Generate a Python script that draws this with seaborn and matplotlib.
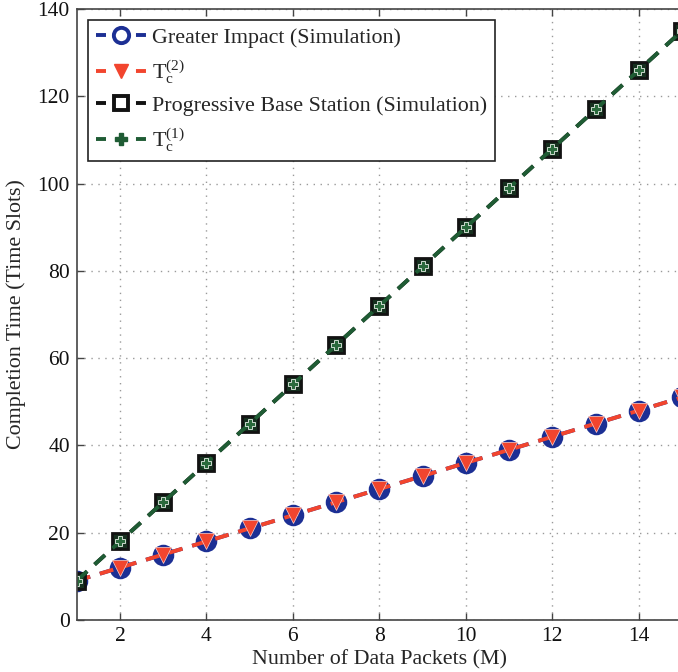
import numpy as np
import pandas as pd
import matplotlib
matplotlib.use("Agg")
import matplotlib.pyplot as plt
from matplotlib.lines import Line2D
import seaborn as sns

# Number of data packets M
packets = [1, 2, 3, 4, 5, 6, 7, 8, 9, 10, 11, 12, 13, 14, 15]
# Completion times (time slots)
greater_impact_sim = [9, 12, 15, 18, 21, 24, 27, 30, 33, 36, 39, 42, 45, 48, 51]
tc2_analysis = [9, 12, 15, 18, 21, 24, 27, 30, 33, 36, 39, 42, 45, 48, 51]
progressive_bs_sim = [9, 18, 27, 36, 45, 54, 63, 72, 81, 90, 99, 108, 117, 126, 135]
tc1_analysis = [9, 18, 27, 36, 45, 54, 63, 72, 81, 90, 99, 108, 117, 126, 135]

x_ticks = [2, 4, 6, 8, 10, 12, 14]
y_ticks = [0, 20, 40, 60, 80, 100, 120, 140]

labels = ["Greater Impact (Simulation)", r"T$_\mathrm{c}^{(2)}$",
          "Progressive Base Station (Simulation)", r"T$_\mathrm{c}^{(1)}$"]

sns.set_theme(style="white")
plt.rcParams["font.family"] = ["Liberation Serif", "DejaVu Serif"]
plt.rcParams["mathtext.fontset"] = "custom"
plt.rcParams["mathtext.rm"] = "Liberation Serif"
plt.rcParams["mathtext.it"] = "Liberation Serif:italic"

fig = plt.figure(figsize=(6.78, 6.72), dpi=100)
ax = fig.add_axes([0.1132, 0.0774, 0.8928, 0.9092])

df = pd.DataFrame({
    "M": packets,
    "gi": greater_impact_sim,
    "tc2": tc2_analysis,
    "pbs": progressive_bs_sim,
    "tc1": tc1_analysis,
})

blue = "#1c2f94"
red = "#f2452e"
black = "#121212"
green = "#1f5c34"
lw = 2.8
dash = (3.6, 2.6)

sns.lineplot(data=df, x="M", y="gi", ax=ax, color=blue, linewidth=lw,
             marker="o", markersize=14, markerfacecolor=blue, markeredgecolor=blue,
             markeredgewidth=1.5, legend=False).lines[-1].set_dashes(dash)
sns.lineplot(data=df, x="M", y="tc2", ax=ax, color=red, linewidth=lw,
             marker="v", markersize=12, markerfacecolor=red, markeredgecolor="#ffd0c8",
             markeredgewidth=0.5, legend=False).lines[-1].set_dashes(dash)
sns.lineplot(data=df, x="M", y="pbs", ax=ax, color=black, linewidth=lw,
             marker="s", markersize=12, markerfacecolor="#16301f", markeredgecolor=black,
             markeredgewidth=2.0, legend=False).lines[-1].set_dashes(dash)
sns.lineplot(data=df, x="M", y="tc1", ax=ax, color=green, linewidth=lw,
             marker="P", markersize=7.5, markerfacecolor="#2a6a3c", markeredgecolor="#e8f0e8",
             markeredgewidth=0.6, legend=False).lines[-1].set_dashes(dash)

ax.set_xlim(1, 15)
ax.set_ylim(0, 140)
ax.set_xticks(x_ticks)
ax.set_yticks(y_ticks)
ax.tick_params(axis="both", direction="in", length=5, width=1, labelsize=15.5,
               top=True, bottom=True, left=True, right=False, colors="#444444",
               labelcolor="#111111", pad=5)
ax.grid(True, linestyle=(0, (1, 4)), color="#9a9a9a", linewidth=1.0)
for side in ["left", "bottom", "top"]:
    ax.spines[side].set_color("#444444")
    ax.spines[side].set_linewidth(1.2)
ax.spines["right"].set_visible(False)

ax.set_xlabel("Number of Data Packets (M)", fontsize=15.8, labelpad=3)
ax.set_ylabel("Completion Time (Time Slots)", fontsize=15.8, labelpad=8)

# legend keys: short dash, marker, short dash
key_dash = (2.57, 7.71)
handles = [
    Line2D([], [], color=blue, linewidth=lw, dashes=key_dash, marker="o",
           markersize=11, markerfacecolor="white", markeredgecolor=blue, markeredgewidth=2.8),
    Line2D([], [], color=red, linewidth=lw, dashes=key_dash, marker="v",
           markersize=10, markerfacecolor=red, markeredgecolor=red),
    Line2D([], [], color=black, linewidth=lw, dashes=key_dash, marker="s",
           markersize=10, markerfacecolor="white", markeredgecolor=black, markeredgewidth=2.8),
    Line2D([], [], color=green, linewidth=lw, dashes=key_dash, marker="P",
           markersize=8, markerfacecolor=green, markeredgecolor=green),
]
leg = ax.legend(handles, labels, loc="upper left", bbox_to_anchor=(0.0186, 0.982),
                borderaxespad=0, fontsize=15.8, frameon=True, fancybox=False,
                edgecolor="#222222", framealpha=1, handlelength=2.28,
                labelspacing=0.45, borderpad=0.35, handletextpad=0.3)
leg.get_frame().set_linewidth(1.2)

fig.savefig("out.png", dpi=100)
